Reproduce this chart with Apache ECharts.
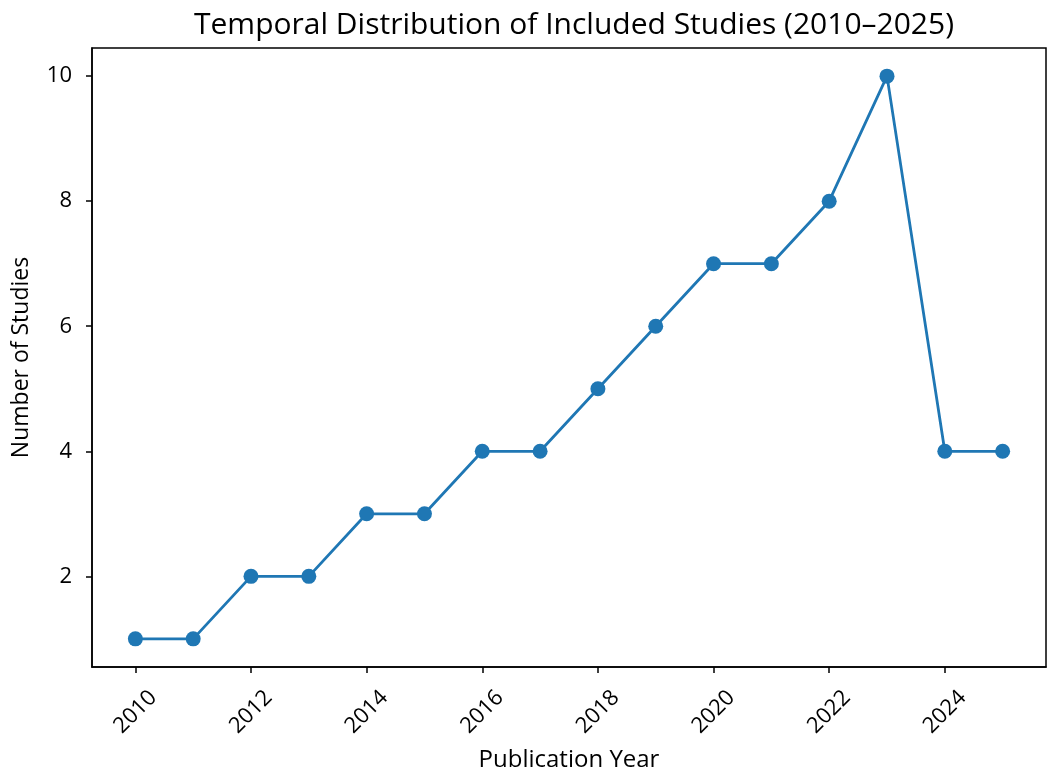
<!DOCTYPE html>
<html>
<head>
<meta charset="utf-8">
<script src="https://cdn.jsdelivr.net/npm/echarts@6/dist/echarts.min.js"></script>
<style>
  html, body { margin: 0; padding: 0; background: #fff; }
  #chart { width: 1061px; height: 780px; }
</style>
</head>
<body>
<div id="chart"></div>
<script>
const years = [2010, 2011, 2012, 2013, 2014, 2015, 2016, 2017, 2018, 2019, 2020, 2021, 2022, 2023, 2024, 2025];
const studies = [1, 1, 2, 2, 3, 3, 4, 4, 5, 6, 7, 7, 8, 10, 4, 4];
const xTicks = [2010, 2012, 2014, 2016, 2018, 2020, 2022, 2024];
const yTicks = [2, 4, 6, 8, 10];

const font = 'Open Sans';
const chart = echarts.init(document.getElementById('chart'));

chart.setOption({
    animation: false,
    title: {
        text: 'Temporal Distribution of Included Studies (2010\u20132025)',
        left: 569,
        textAlign: 'center',
        top: 5,
        textStyle: { fontFamily: font, fontSize: 30, fontWeight: 'normal', color: '#000' }
    },
    grid: {
        left: 92, right: 15, top: 48, bottom: 113,
        show: true, borderColor: '#000', borderWidth: 1.5
    },
    xAxis: {
        type: 'value',
        min: 2009.25,
        max: 2025.75,
        name: 'Publication Year',
        nameLocation: 'middle',
        nameGap: 81,
        nameTextStyle: { fontFamily: font, fontSize: 24, color: '#000' },
        axisLine: { lineStyle: { color: '#000', width: 1.5 } },
        axisTick: { customValues: xTicks, length: 6, lineStyle: { color: '#000', width: 1.5 } },
        axisLabel: {
            customValues: xTicks,
            rotate: 45,
            align: 'center',
            verticalAlign: 'middle',
            margin: 45,
            fontFamily: font,
            fontSize: 22,
            color: '#000',
            formatter: v => String(v)
        },
        splitLine: { show: false }
    },
    yAxis: {
        type: 'value',
        min: 0.55,
        max: 10.45,
        name: 'Number of Studies',
        nameLocation: 'middle',
        nameGap: 59,
        nameTextStyle: { fontFamily: font, fontSize: 23, color: '#000' },
        axisLine: { show: true, lineStyle: { color: '#000', width: 1.5 } },
        axisTick: { show: true, customValues: yTicks, length: 6, lineStyle: { color: '#000', width: 1.5 } },
        axisLabel: {
            customValues: yTicks,
            margin: 20,
            fontFamily: font,
            fontSize: 22,
            color: '#000'
        },
        splitLine: { show: false }
    },
    series: [{
        type: 'line',
        data: years.map((y, i) => [y, studies[i]]),
        symbol: 'circle',
        symbolSize: 15,
        lineStyle: { color: '#1f77b4', width: 2.8 },
        itemStyle: { color: '#1f77b4' }
    }]
});
</script>
</body>
</html>
